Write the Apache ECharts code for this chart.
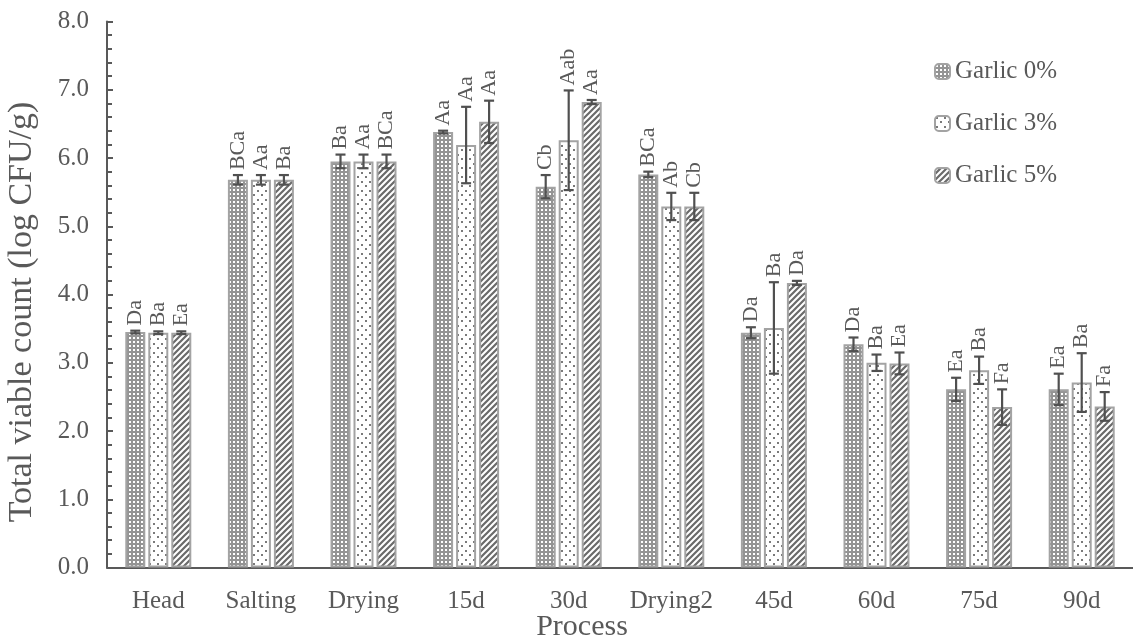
<!DOCTYPE html>
<html><head><meta charset="utf-8">
<script src="https://cdn.jsdelivr.net/npm/echarts@6/dist/echarts.min.js"></script>
<style>html,body{margin:0;padding:0;background:#fff}#c{width:1133px;height:642px}</style>
</head><body><div id="c"></div>
<script>
// ---- data ----
const categories = ['Head','Salting','Drying','15d','30d','Drying2','45d','60d','75d','90d'];
const seriesNames = ['Garlic 0%','Garlic 3%','Garlic 5%'];
const garlic0 = [3.45,5.68,5.95,6.38,5.58,5.76,3.44,3.27,2.61,2.61];
const garlic3 = [3.44,5.68,5.95,6.19,6.26,5.29,3.51,3.00,2.89,2.71];
const garlic5 = [3.44,5.68,5.95,6.53,6.82,5.29,4.17,2.99,2.35,2.36];
const err0 = [0.02,0.07,0.10,0.02,0.17,0.04,0.08,0.10,0.17,0.23];
const err3 = [0.02,0.07,0.10,0.56,0.73,0.20,0.67,0.12,0.20,0.43];
const err5 = [0.02,0.07,0.10,0.31,0.03,0.20,0.03,0.16,0.26,0.21];
const lab0 = ['Da','BCa','Ba','Aa','Cb','BCa','Da','Da','Ea','Ea'];
const lab3 = ['Ba','Aa','Aa','Aa','Aab','Ab','Ba','Ba','Ba','Ba'];
const lab5 = ['Ea','Ba','BCa','Aa','Aa','Cb','Da','Ea','Fa','Fa'];
const yAxisTitle = 'Total viable count (log CFU/g)';
const xAxisTitle = 'Process';

// ---- styling ----
const FONT = '"Liberation Serif","Times New Roman",serif';
const TXT = '#595959';
const BAR_W = 20, BAR_GAP = 3;

function makePattern(type){
  const c = document.createElement('canvas');
  const ctx = c.getContext('2d');
  if (type === 0){
    c.width = 4; c.height = 4;
    ctx.fillStyle = '#949494'; ctx.fillRect(0,0,4,4);
    ctx.fillStyle = '#ffffff'; ctx.fillRect(1,1,2,2);
  } else if (type === 1){
    c.width = 8; c.height = 9;
    ctx.fillStyle = '#ffffff'; ctx.fillRect(0,0,8,9);
    ctx.fillStyle = '#7a7a7a';
    ctx.fillRect(1,1,2,2); ctx.fillRect(5,5,2,2);
  } else {
    c.width = 6; c.height = 6;
    ctx.fillStyle = '#ffffff'; ctx.fillRect(0,0,6,6);
    ctx.strokeStyle = '#6a6a6a'; ctx.lineWidth = 2.2;
    ctx.beginPath();
    ctx.moveTo(-3,3); ctx.lineTo(3,-3);
    ctx.moveTo(0,6); ctx.lineTo(6,0);
    ctx.moveTo(3,9); ctx.lineTo(9,3);
    ctx.stroke();
  }
  return {image: c, repeat: 'repeat'};
}

const values = [garlic0, garlic3, garlic5];
const errs = [err0, err3, err5];
const labels = [lab0, lab3, lab5];

const barSeries = values.map((vals, s) => ({
  name: seriesNames[s],
  type: 'bar',
  barWidth: BAR_W,
  barGap: '15%',
  data: vals,
  itemStyle: {color: makePattern(s), borderColor: '#a3a3a3', borderWidth: 2},
  emphasis: {disabled: true},
  z: 2
}));

const errSeries = values.map((vals, s) => ({
  type: 'custom',
  silent: true,
  z: 5,
  data: vals.map((v, i) => [i, v, errs[s][i]]),
  renderItem: function(params, api){
    const ci = api.value(0), v = api.value(1), e = api.value(2);
    const off = (s - 1) * (BAR_W + BAR_GAP);
    const x = api.coord([ci, v])[0] + off;
    const top = api.coord([ci, v + e])[1];
    const bot = api.coord([ci, v - e])[1];
    const cap = 5;
    const st = {stroke: '#505050', lineWidth: 2.2};
    return {type: 'group', children: [
      {type: 'line', shape: {x1: x, y1: top, x2: x, y2: bot}, style: st},
      {type: 'line', shape: {x1: x - cap, y1: top, x2: x + cap, y2: top}, style: st},
      {type: 'line', shape: {x1: x - cap, y1: bot, x2: x + cap, y2: bot}, style: st},
      {type: 'text', x: x, y: top - 5, rotation: Math.PI / 2,
       style: {text: labels[s][params.dataIndex], align: 'left', verticalAlign: 'middle',
               font: '22px ' + FONT, fill: TXT}}
    ]};
  }
}));

const chart = echarts.init(document.getElementById('c'), null, {renderer: 'canvas'});
chart.setOption({
  backgroundColor: '#ffffff',
  animation: false,
  grid: {left: 107, top: 21.5, width: 1033, height: 546},
  legend: {
    orient: 'vertical', left: 934, top: 59, padding: 0,
    itemWidth: 15, itemHeight: 15, itemGap: 27,
    data: seriesNames,
    textStyle: {fontFamily: FONT, fontSize: 25, color: TXT}
  },
  xAxis: {
    type: 'category', data: categories,
    axisLine: {lineStyle: {color: '#595959', width: 2}},
    axisTick: {show: false},
    axisLabel: {fontFamily: FONT, fontSize: 25, color: TXT, margin: 21, interval: 0}
  },
  yAxis: {
    type: 'value', min: 0, max: 8, interval: 1,
    axisLine: {show: true, lineStyle: {color: '#595959', width: 2}},
    axisTick: {show: true, inside: true, length: 6, lineStyle: {color: '#595959', width: 2}},
    minorTick: {show: true, splitNumber: 5, length: 5, lineStyle: {color: '#595959', width: 2}},
    splitLine: {show: false},
    axisLabel: {fontFamily: FONT, fontSize: 25, color: TXT, margin: 18,
                formatter: v => v.toFixed(1)}
  },
  graphic: [
    {type: 'text', x: 22, y: 312, rotation: Math.PI / 2,
     style: {text: yAxisTitle, align: 'center', verticalAlign: 'middle', font: '34px ' + FONT, fill: TXT}},
    {type: 'text', x: 582, y: 627,
     style: {text: xAxisTitle, align: 'center', verticalAlign: 'middle', font: '30px ' + FONT, fill: TXT}}
  ],
  series: barSeries.concat(errSeries)
});
</script></body></html>
